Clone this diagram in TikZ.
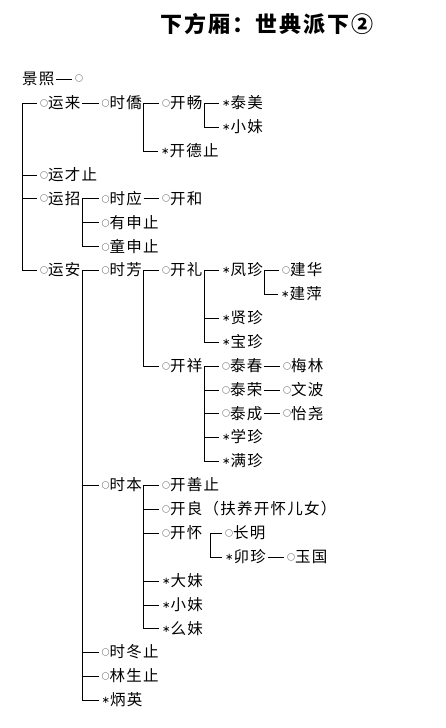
\documentclass[tikz,border=0pt]{standalone}
\usepackage{fontspec}
\usepackage{tikz}
\newfontfamily\cjk[LetterSpace=8]{Noto Sans CJK SC}
\newfontfamily\sym{DejaVu Sans}
\newcommand{\boy}{\raisebox{2.4pt}{\fontsize{8}{8}\selectfont ○}}
\newcommand{\girl}{\raisebox{2.2pt}{\sym\fontsize{10}{10}\selectfont ∗}}

\begin{document}
\begin{tikzpicture}[x=1pt, y=-1pt, font=\cjk\fontsize{15.5}{18}\selectfont,
  pers/.style={anchor=west, inner xsep=1.5pt, inner ysep=0pt},
  link/.style={line width=0.8pt, shorten >=1.5pt}]
\useasboundingbox (0,0) rectangle (446,728);
\node[font=\cjk\bfseries\fontsize{22}{24}\selectfont] (title) at (267,24) {下方厢：世典派下②};
% root
\node[pers] (jz) at (20.5,79) {景照};
\node[pers] (jzo) at (73.5,79) {\boy};
\draw[link] (jz) -- (jzo);
\coordinate (top) at (22,103);
% first generation
\node[pers] (yl) at (38.5,103) {\boy 运来};
\node[pers] (yc) at (38.5,175) {\boy 运才止};
\node[pers] (yz) at (38.5,198.5) {\boy 运招};
\node[pers] (ya) at (38.5,270) {\boy 运安};
\draw[link] (top) |- (yl.west); \draw[link] (top) |- (yc.west);
\draw[link] (top) |- (yz.west); \draw[link] (top) |- (ya.west);
% yunlai
\node[pers] (sq) at (100,103) {\boy 时僑};
\node[pers] (kc) at (160.5,103) {\boy 开畅};
\node[pers] (kd) at (159.5,151) {\girl 开德止};
\node[pers] (tm) at (220.5,103) {\girl 泰美};
\node[pers] (xm) at (220.5,127) {\girl 小妹};
\draw[link] (yl.east) |- (sq.west);
\draw[link] (sq.east) |- (kc.west); \draw[link] (sq.east) |- (kd.west);
\draw[link] (kc.east) |- (tm.west); \draw[link] (kc.east) |- (xm.west);
% yunzhao
\node[pers] (sy) at (100,198.5) {\boy 时应};
\node[pers] (khe) at (160.5,198.5) {\boy 开和};
\node[pers] (ys) at (100,222.5) {\boy 有申止};
\node[pers] (ts) at (100,246.5) {\boy 童申止};
\draw[link] (yz.east) |- (sy.west); \draw[link] (yz.east) |- (ys.west);
\draw[link] (yz.east) |- (ts.west); \draw[link] (sy.east) |- (khe.west);
% yunan
\node[pers] (sf) at (100,270) {\boy 时芳};
\node[pers] (sb) at (100,485) {\boy 时本};
\node[pers] (sd) at (100,652) {\boy 时冬止};
\node[pers] (ls) at (100,676) {\boy 林生止};
\node[pers] (by) at (100,700) {\girl 炳英};
\draw[link] (ya.east) |- (sf.west); \draw[link] (ya.east) |- (sb.west);
\draw[link] (ya.east) |- (sd.west); \draw[link] (ya.east) |- (ls.west);
\draw[link] (ya.east) |- (by.west);
% shifang
\node[pers] (kl) at (160.5,270) {\boy 开礼};
\node[pers] (kx) at (160.5,366) {\boy 开祥};
\draw[link] (sf.east) |- (kl.west); \draw[link] (sf.east) |- (kx.west);
\node[pers] (fz) at (220.5,270) {\girl 凤珍};
\node[pers] (xz) at (220.5,318) {\girl 贤珍};
\node[pers] (bz) at (220.5,342) {\girl 宝珍};
\node[pers] (jh) at (280.5,270) {\boy 建华};
\node[pers] (jp) at (279.5,294) {\girl 建萍};
\draw[link] (kl.east) |- (fz.west); \draw[link] (kl.east) |- (xz.west);
\draw[link] (kl.east) |- (bz.west); \draw[link] (fz.east) |- (jh.west);
\draw[link] (fz.east) |- (jp.west);
\node[pers] (tc) at (220.5,366) {\boy 泰春};
\node[pers] (tr) at (220.5,390) {\boy 泰荣};
\node[pers] (tch) at (220.5,413.5) {\boy 泰成};
\node[pers] (xzh) at (220.5,437) {\girl 学珍};
\node[pers] (mz) at (220.5,461) {\girl 满珍};
\node[pers] (ml) at (281.5,366) {\boy 梅林};
\node[pers] (wb) at (281.5,390) {\boy 文波};
\node[pers] (yy) at (281.5,413.5) {\boy 怡尧};
\draw[link] (kx.east) |- (tc.west); \draw[link] (kx.east) |- (tr.west);
\draw[link] (kx.east) |- (tch.west); \draw[link] (kx.east) |- (xzh.west);
\draw[link] (kx.east) |- (mz.west);
\draw[link] (tc) -- (ml); \draw[link] (tr) -- (wb); \draw[link] (tch) -- (yy);
% shiben
\node[pers] (ks) at (160.5,485) {\boy 开善止};
\node[pers] (kli) at (160.5,509) {\boy 开良（扶养开怀儿女）};
\node[pers] (khu) at (160.5,533) {\boy 开怀};
\node[pers] (dm) at (160.5,581) {\girl 大妹};
\node[pers] (xm2) at (160.5,605) {\girl 小妹};
\node[pers] (ym) at (160.5,628.5) {\girl 么妹};
\draw[link] (sb.east) |- (ks.west); \draw[link] (sb.east) |- (kli.west);
\draw[link] (sb.east) |- (khu.west); \draw[link] (sb.east) |- (dm.west);
\draw[link] (sb.east) |- (xm2.west); \draw[link] (sb.east) |- (ym.west);
\node[pers] (cm) at (223.5,533) {\boy 长明};
\node[pers] (mzh) at (223.5,557) {\girl 卯珍};
\node[pers] (yg) at (285.5,557) {\boy 玉国};
\draw[link] ([xshift=6pt]khu.east) |- (cm.west); \draw[link] ([xshift=6pt]khu.east) |- (mzh.west);
\draw[link] (mzh) -- (yg);
\end{tikzpicture}
\end{document}
